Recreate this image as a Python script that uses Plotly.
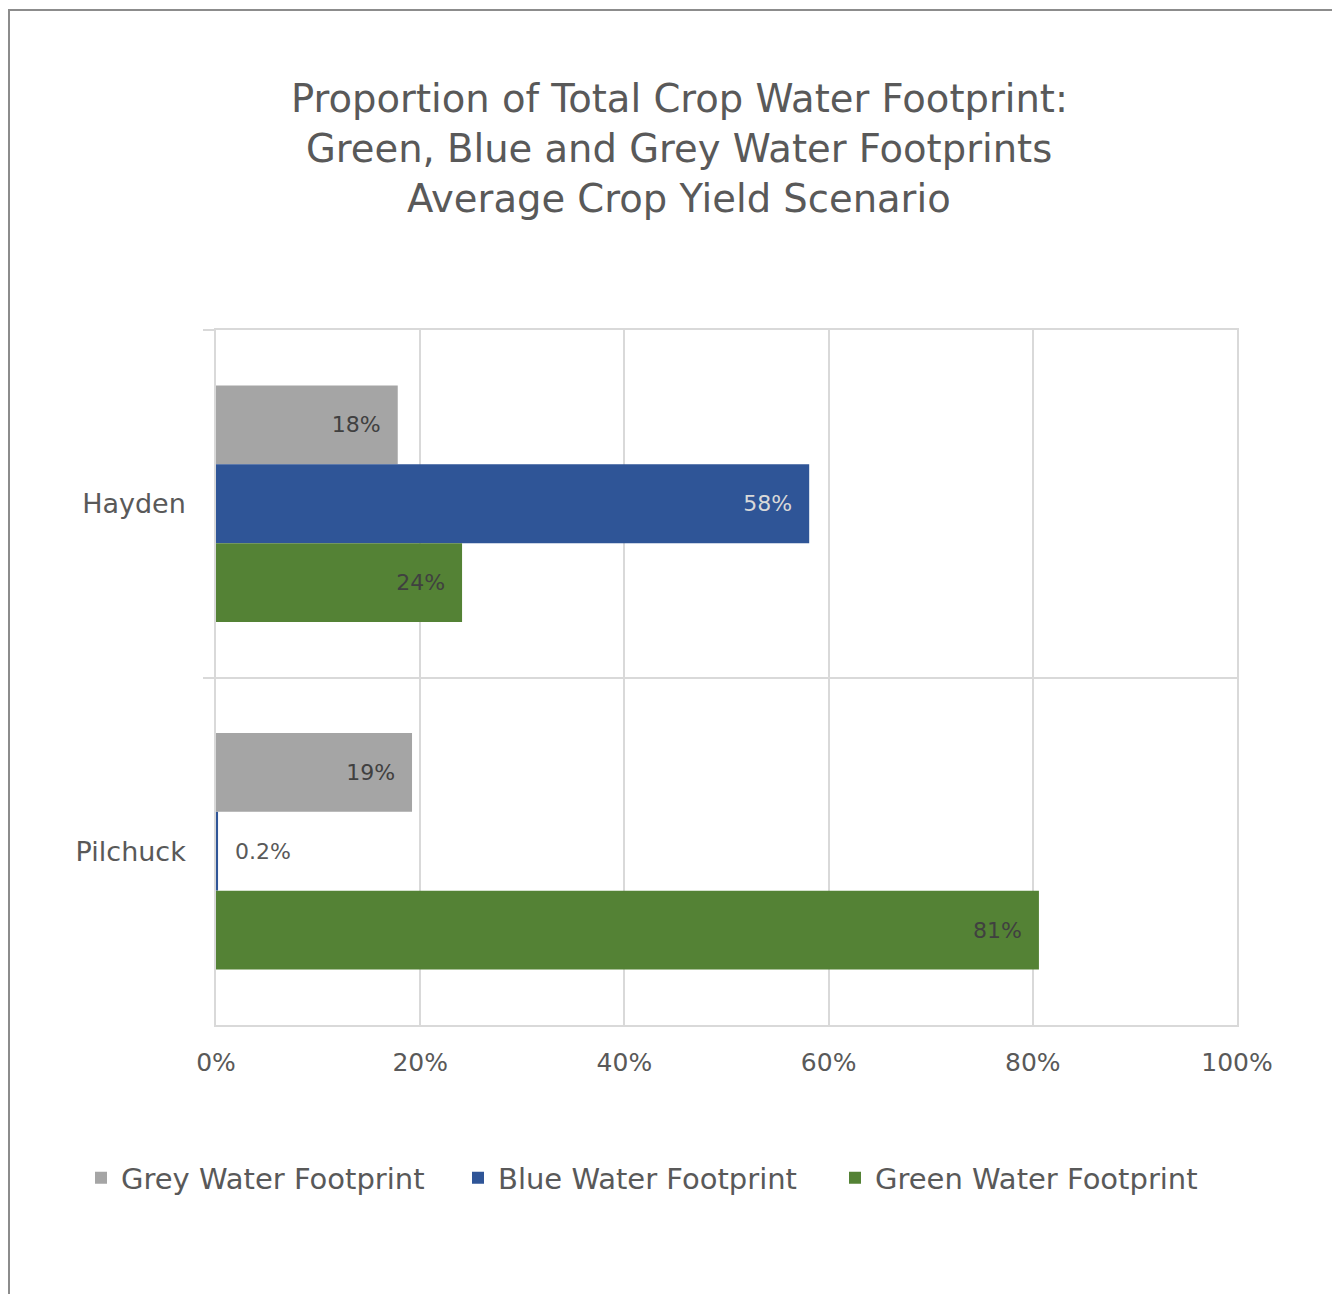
import plotly.graph_objects as go

# Catchments and their share of the total crop water footprint
regions = ["Hayden", "Pilchuck"]
series_names = ["Grey Water Footprint", "Blue Water Footprint", "Green Water Footprint"]
grey_share = [0.178, 0.192]
blue_share = [0.581, 0.002]
green_share = [0.241, 0.806]
share_labels = {
    "Grey Water Footprint": ["18%", "19%"],
    "Blue Water Footprint": ["58%", "0.2%"],
    "Green Water Footprint": ["24%", "81%"],
}
x_tick_vals = [0, 0.2, 0.4, 0.6, 0.8, 1.0]
x_tick_text = ["0%", "20%", "40%", "60%", "80%", "100%"]
title_lines = [
    "Proportion of Total Crop Water Footprint:",
    "Green, Blue and Grey Water Footprints",
    "Average Crop Yield Scenario",
]

FONT = "DejaVu Sans"
TEXT_GREY = "#595959"
GRID = "#d9d9d9"
bar_colors = ["#a5a5a5", "#2f5597", "#548235"]
inside_label_colors = ["#404040", "#d9d9d9", "#404040"]

W, H = 1332, 1294
L, R, T, B = 216, 95, 330, 269
PW, PH = W - L - R, H - T - B


def px_x(x):
    return (x - L) / PW


def px_y(y):
    return (H - B - y) / PH


NBSP = "\u00a0"

fig = go.Figure()
for name, vals, color, in_col in zip(series_names, [grey_share, blue_share, green_share],
                                     bar_colors, inside_label_colors):
    labels = share_labels[name]
    texts = [(NBSP * 2 + t) if v < 0.05 else (t + NBSP * 2) for t, v in zip(labels, vals)]
    fig.add_trace(go.Bar(
        name=name,
        y=regions,
        x=vals,
        orientation="h",
        marker=dict(color=color, line=dict(width=0)),
        text=texts,
        textposition="auto",
        insidetextanchor="end",
        textangle=0,
        insidetextfont=dict(family=FONT, size=22, color=in_col),
        outsidetextfont=dict(family=FONT, size=22, color=TEXT_GREY),
        cliponaxis=False,
        hoverinfo="skip",
    ))

for i, line in enumerate(title_lines):
    fig.add_annotation(
        text=line, xref="paper", yref="paper",
        x=px_x(679), y=px_y(98 + 50 * i),
        xanchor="center", yanchor="middle", showarrow=False,
        font=dict(family=FONT, size=38.5, color=TEXT_GREY),
    )

# chart frame
fig.add_shape(
    type="rect", xref="paper", yref="paper",
    x0=px_x(9), x1=px_x(1345), y0=px_y(10), y1=px_y(1310),
    line=dict(color="#8c8c8c", width=2), fillcolor="rgba(0,0,0,0)", layer="below",
)

fig.update_layout(
    width=W, height=H,
    margin=dict(l=L, r=R, t=T, b=B, autoexpand=False),
    paper_bgcolor="white", plot_bgcolor="white",
    barmode="group", bargap=0.32, bargroupgap=0,
    font=dict(family=FONT, color=TEXT_GREY),
    showlegend=True,
    legend=dict(
        orientation="h", x=px_x(81), y=px_y(1178), xanchor="left", yanchor="middle",
        font=dict(family=FONT, size=29, color=TEXT_GREY),
        entrywidth=332, entrywidthmode="pixels",
        traceorder="normal", bgcolor="rgba(0,0,0,0)",
    ),
    xaxis=dict(
        range=[0, 1], tickvals=x_tick_vals, ticktext=x_tick_text,
        showgrid=True, gridcolor=GRID, gridwidth=1.5,
        zeroline=False, showline=True, mirror=True,
        linecolor=GRID, linewidth=1.5, ticks="",
        ticklabelstandoff=14,
        tickfont=dict(family=FONT, size=25, color=TEXT_GREY),
        fixedrange=True,
    ),
    yaxis=dict(
        type="category", categoryarray=regions, categoryorder="array",
        autorange="reversed",
        tickson="boundaries", ticks="outside", ticklen=11,
        tickcolor=GRID, tickwidth=1.5,
        showgrid=True, gridcolor=GRID, gridwidth=1.5,
        zeroline=False, showline=True, mirror=True,
        linecolor=GRID, linewidth=1.5,
        ticklabelstandoff=23,
        tickfont=dict(family=FONT, size=27, color=TEXT_GREY),
        fixedrange=True,
    ),
)

fig.write_html("out.html")
